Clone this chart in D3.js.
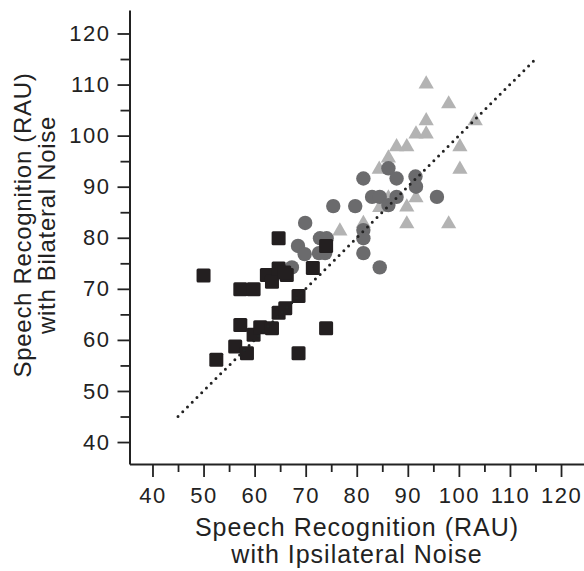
<!DOCTYPE html>
<html>
<head>
<meta charset="utf-8">
<script src="https://cdn.jsdelivr.net/npm/d3@7"></script>
<style>
  body { margin: 0; background: #fff; }
  text { font-family: "Liberation Sans", "DejaVu Sans", sans-serif; fill: #222; }
</style>
</head>
<body>
<svg id="chart" width="584" height="571"></svg>
<script>
// ipsilateral (x) vs bilateral (y) speech recognition, RAU
const squares = [
  [50.0, 72.6], [52.5, 56.1], [56.2, 58.7], [57.2, 62.9], [57.2, 69.9],
  [58.5, 57.4], [59.8, 61.0], [59.8, 69.9], [61.1, 62.5], [62.4, 72.7],
  [63.4, 71.4], [63.4, 62.3], [64.7, 79.9], [64.7, 74.0], [66.3, 72.7],
  [64.7, 65.3], [66.0, 66.2], [68.6, 68.6], [68.6, 57.4], [71.4, 74.1],
  [74.0, 78.4], [74.0, 62.3], [65.8, 73.2]
];
const circles = [
  [67.3, 74.2], [68.5, 78.4], [69.8, 76.8], [69.9, 82.9], [72.6, 77.0],
  [73.8, 77.0], [72.8, 79.9], [74.1, 79.9], [75.4, 86.2], [79.7, 86.2],
  [81.3, 91.6], [81.3, 81.5], [81.3, 79.9], [81.3, 77.0], [83.0, 88.0],
  [84.5, 88.0], [84.5, 74.2], [86.2, 93.6], [86.2, 86.4], [87.8, 91.6],
  [87.8, 88.0], [91.5, 92.0], [91.6, 90.0], [95.7, 88.0]
];
const triangles = [
  [76.7, 81.5], [81.3, 83.0], [84.4, 93.6], [84.5, 86.1], [86.2, 95.8],
  [86.2, 88.0], [87.8, 98.0], [89.8, 98.0], [89.8, 86.2], [89.8, 82.9],
  [91.6, 88.0], [91.6, 100.5], [93.6, 100.5], [93.6, 103.1], [93.6, 110.3],
  [98.0, 106.4], [98.0, 82.9], [100.2, 98.0], [100.2, 93.6], [103.2, 103.1]
];
const identityLine = [[45, 45], [115, 115]];
const majorTicks = [40, 50, 60, 70, 80, 90, 100, 110, 120];
const minorTicks = [45, 55, 65, 75, 85, 95, 105, 115];
const xTitle = ["Speech Recognition (RAU)", "with Ipsilateral Noise"];
const yTitle = ["Speech Recognition (RAU)", "with Bilateral Noise"];

const svg = d3.select("#chart");
const plotLeft = 129.5, plotTop = 10, plotRight = 584, plotBottom = 464;

const x = d3.scaleLinear().domain([35.5, 124.5]).range([plotLeft, plotRight]);
const y = d3.scaleLinear().domain([35.7, 124.6]).range([plotBottom, plotTop]);

// axes
svg.append("g").attr("transform", `translate(0,${plotBottom})`)
  .call(d3.axisBottom(x).tickValues(majorTicks).tickSize(13).tickSizeOuter(0).tickPadding(10));
svg.append("g").attr("transform", `translate(${plotLeft},0)`)
  .call(d3.axisLeft(y).tickValues(majorTicks).tickSize(12).tickSizeOuter(0).tickPadding(7));

svg.append("g").attr("transform", `translate(0,${plotBottom})`)
  .call(d3.axisBottom(x).tickValues(minorTicks).tickSize(8).tickSizeOuter(0).tickFormat(""))
  .select(".domain").remove();
svg.append("g").attr("transform", `translate(${plotLeft},0)`)
  .call(d3.axisLeft(y).tickValues(minorTicks).tickSize(9).tickSizeOuter(0).tickFormat(""))
  .select(".domain").remove();

svg.selectAll(".domain").attr("stroke", "#222").attr("stroke-width", 2);
svg.selectAll(".tick line").attr("stroke", "#222").attr("stroke-width", 1.8);
svg.selectAll(".tick text")
  .style("font-family", "'Liberation Sans', sans-serif")
  .style("font-size", "22px")
  .style("letter-spacing", "1.5px")
  .attr("fill", "#222");

// markers: triangles under circles under squares
const tri = d3.symbol().type(d3.symbolTriangle).size(100);
svg.append("g").selectAll("path").data(triangles).join("path")
  .attr("d", tri)
  .attr("transform", d => `translate(${x(d[0])},${y(d[1]) + 1})`)
  .attr("fill", "#b3b3b3");

svg.append("g").selectAll("circle").data(circles).join("circle")
  .attr("cx", d => x(d[0]))
  .attr("cy", d => y(d[1]))
  .attr("r", 7.2)
  .attr("fill", "#6b6b6d");

svg.append("g").selectAll("rect").data(squares).join("rect")
  .attr("x", d => x(d[0]) - 7)
  .attr("y", d => y(d[1]) - 7)
  .attr("width", 14).attr("height", 14).attr("rx", 1.5)
  .attr("fill", "#231f20");

// dotted identity line
svg.append("path")
  .datum(identityLine)
  .attr("d", d3.line().x(d => x(d[0])).y(d => y(d[1])))
  .attr("stroke", "#222")
  .attr("stroke-width", 3)
  .attr("stroke-linecap", "round")
  .attr("stroke-dasharray", "0,6.7")
  .attr("fill", "none");

// axis titles
const xt = svg.append("text")
  .attr("text-anchor", "middle")
  .style("font-size", "25px").style("letter-spacing", "1px");
xt.selectAll("tspan").data(xTitle).join("tspan")
  .attr("x", 357).attr("y", (d, i) => 536 + i * 27)
  .text(d => d);

const yt = svg.append("text")
  .attr("text-anchor", "middle")
  .attr("transform", "translate(0,225) rotate(-90)")
  .style("font-size", "24px").style("letter-spacing", "0.7px");
yt.selectAll("tspan").data(yTitle).join("tspan")
  .attr("x", 0).attr("y", (d, i) => 31 + i * 24)
  .text(d => d);
</script>
</body>
</html>
